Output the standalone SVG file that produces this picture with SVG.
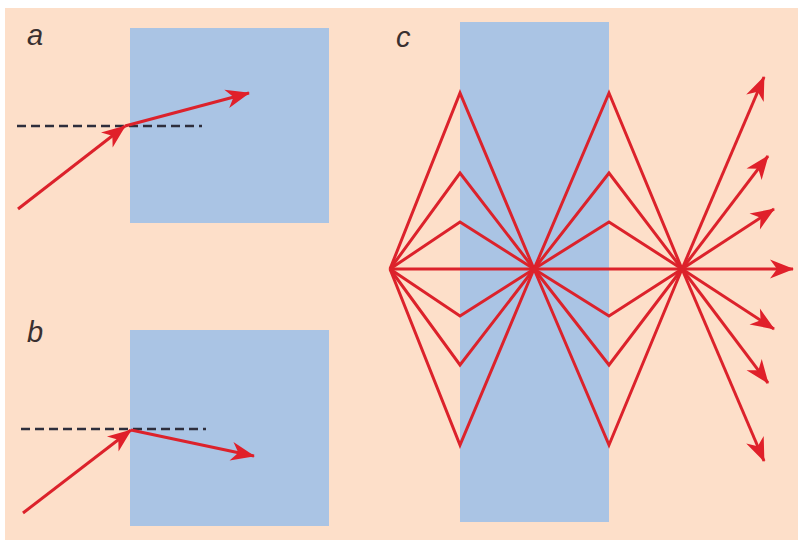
<svg xmlns="http://www.w3.org/2000/svg" width="798" height="540" viewBox="0 0 798 540">
<style>
.bg{fill:#fddfc9}
.slab{fill:#aac4e4}
.ray{fill:none;stroke:#dc222b;stroke-width:3;stroke-linejoin:miter}
.arr{marker-end:url(#ah)}
.dash{fill:none;stroke:#2e2e3c;stroke-width:2.6;stroke-dasharray:9 5}
.lbl{font-family:"Liberation Sans",Arial,sans-serif;font-style:italic;font-size:29px;fill:#3a3030}
</style>
<defs>
<marker id="ah" markerUnits="userSpaceOnUse" viewBox="-26 -11 28 22" refX="0" refY="0" markerWidth="28" markerHeight="22" orient="auto">
<path d="M1,0 L-23,-9.5 L-16,0 L-23,9.5 Z" fill="#e0202a"/>
</marker>
</defs>
<rect class="bg" x="5" y="8" width="793" height="532"/>

<g id="panel-a">
<rect class="slab" x="130" y="28" width="199" height="195"/>
<line class="dash" x1="17" y1="126" x2="202" y2="126"/>
<line class="ray arr" x1="18" y1="209" x2="125" y2="126"/>
<line class="ray arr" x1="125" y1="126" x2="249" y2="93"/>
<text class="lbl" x="27" y="45">a</text>
</g>

<g id="panel-b">
<rect class="slab" x="130" y="330" width="199" height="196"/>
<line class="dash" x1="21" y1="429" x2="206" y2="429"/>
<line class="ray arr" x1="23" y1="513" x2="131" y2="430"/>
<line class="ray arr" x1="131" y1="430" x2="254" y2="456"/>
<text class="lbl" x="27" y="342">b</text>
</g>

<g id="panel-c">
<rect class="slab" x="460" y="22" width="149" height="500"/>
<text class="lbl" x="396" y="47">c</text>
<g id="connectors">
<polyline class="ray" points="390,269 460,93 534,269 609,93 682,269"/>
<polyline class="ray" points="390,269 460,173 534,269 609,173 682,269"/>
<polyline class="ray" points="390,269 460,222 534,269 609,222 682,269"/>
<polyline class="ray" points="390,269 460,316 534,269 609,316 682,269"/>
<polyline class="ray" points="390,269 460,365 534,269 609,365 682,269"/>
<polyline class="ray" points="390,269 460,445 534,269 609,445 682,269"/>
<line class="ray arr" x1="390" y1="269" x2="793" y2="269"/>
<line class="ray arr" x1="682" y1="269" x2="764" y2="77"/>
<line class="ray arr" x1="682" y1="269" x2="768" y2="156"/>
<line class="ray arr" x1="682" y1="269" x2="774" y2="209"/>
<line class="ray arr" x1="682" y1="269" x2="774" y2="329"/>
<line class="ray arr" x1="682" y1="269" x2="768" y2="383"/>
<line class="ray arr" x1="682" y1="269" x2="764" y2="461"/>
</g>
</g>
</svg>
